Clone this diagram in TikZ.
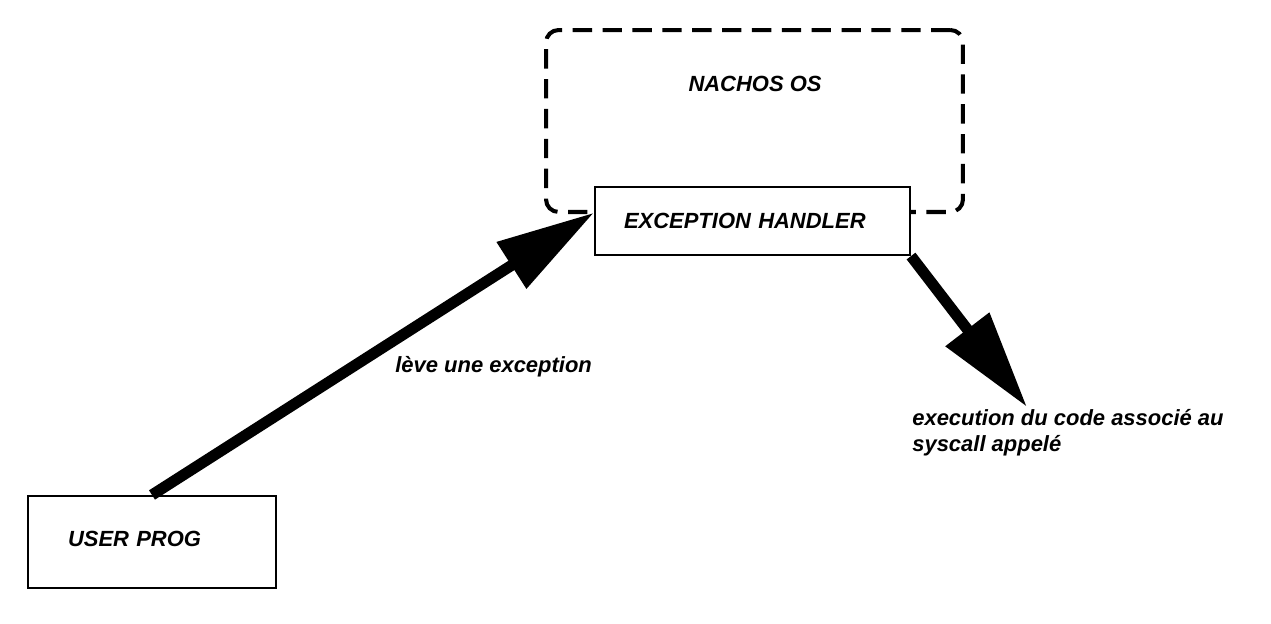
\documentclass[tikz,border=0pt]{standalone}
\usepackage{fontspec}
\setmainfont{Liberation Sans}
\usetikzlibrary{arrows.meta}

\begin{document}
\begin{tikzpicture}[x=0.02cm,y=-0.02cm]
		\useasboundingbox (0,0) rectangle (1271,623);
		\tikzset{BoxStyle/.style = {draw, line width=1.2pt, fill=white, align=left,
		font=\fontsize{12.5}{15}\selectfont\bfseries\itshape},
		OsStyle/.style = {draw, line width=2.3pt, rounded corners=0.25cm,
		dash pattern=on 11pt off 6pt, minimum width=8.34cm, minimum height=3.64cm},
		TextStyle/.style = {font=\fontsize{12.5}{15}\selectfont\bfseries\itshape, align=left, inner sep=0pt},
		ArrowStyle/.style = {line width=6.3pt, -{Triangle[length=1.96cm, width=1.05cm]}}}
		\node[OsStyle] (os) at (754.5,121) {};
		\node[TextStyle] (ostitle) at (755,84) {NACHOS OS};
		\node[BoxStyle, minimum width=6.3cm, minimum height=1.36cm, text width=5.14cm,
		inner xsep=0.58cm] (handler) at (752.5,221) {EXCEPTION HANDLER};
		\node[BoxStyle, minimum width=4.96cm, minimum height=1.84cm, text width=3.36cm,
		inner xsep=0.8cm] (userprog) at (152,542) {\raisebox{0.12cm}{USER PROG}};
		\node[TextStyle, anchor=west] (leve) at (395,367) {lève une exception};
		\node[TextStyle, anchor=north west] (exec) at (912,409) {execution du code associé au\\syscall appelé};
		\coordinate (execpt) at (1027,407);
		\draw[ArrowStyle] (userprog.north) -- (handler.177);
		\draw[ArrowStyle] (handler.south east) -- (execpt);
	\end{tikzpicture}
\end{document}
